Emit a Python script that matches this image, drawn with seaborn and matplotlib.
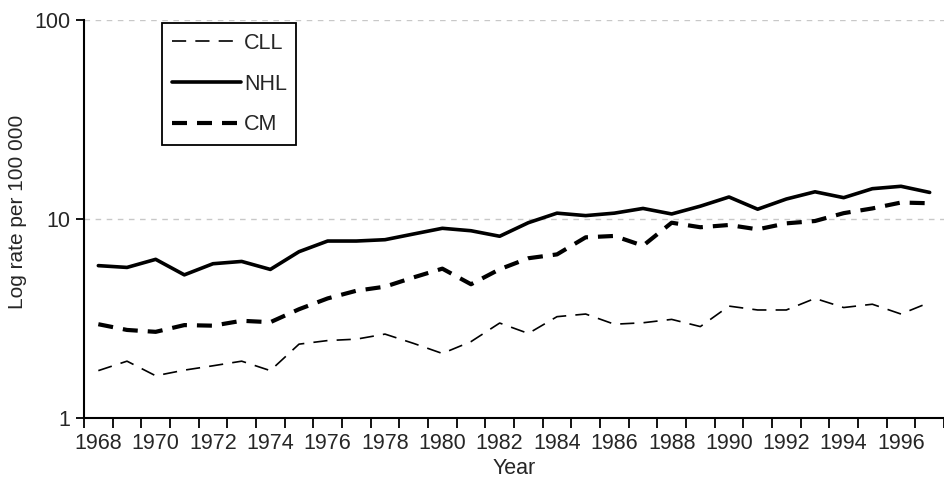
import matplotlib
matplotlib.use("Agg")
import matplotlib.pyplot as plt
import seaborn as sns
import numpy as np
from matplotlib.lines import Line2D

# values (rate per 100 000)
years = list(range(1968, 1998))
cll = [1.73, 1.93, 1.63, 1.74, 1.83, 1.93, 1.73, 2.35, 2.45, 2.49,
       2.64, 2.37, 2.11, 2.42, 3.00, 2.66, 3.23, 3.33, 2.96, 3.01,
       3.13, 2.88, 3.65, 3.49, 3.49, 3.99, 3.59, 3.73, 3.33, 3.81]
nhl = [5.83, 5.71, 6.27, 5.24, 5.96, 6.12, 5.58, 6.85, 7.75, 7.75,
       7.87, 8.41, 8.98, 8.73, 8.19, 9.58, 10.7, 10.4, 10.7, 11.3,
       10.6, 11.6, 12.9, 11.2, 12.6, 13.7, 12.8, 14.2, 14.6, 13.6]
cm = [2.96, 2.77, 2.71, 2.93, 2.91, 3.08, 3.03, 3.52, 3.99, 4.36,
      4.57, 5.09, 5.63, 4.70, 5.59, 6.35, 6.64, 8.09, 8.22, 7.34,
      9.58, 9.09, 9.33, 8.87, 9.51, 9.77, 10.7, 11.3, 12.1, 12.0]
labels = ["CLL", "NHL", "CM"]
year_labels = [str(y) for y in range(1968, 1998, 2)]

sns.set_style("white")
plt.rcParams["font.family"] = ["Liberation Sans", "DejaVu Sans"]

W, H = 944, 478
fs = 15.5
fig = plt.figure(figsize=(W / 100, H / 100), dpi=100)
ax = fig.add_axes([84 / W, 60 / H, 860 / W, 398 / H])

styles = {
    "CLL": dict(lw=1.2, linestyle=(0, (8.5, 5.5))),
    "NHL": dict(lw=2.6, linestyle="-"),
    "CM": dict(lw=3.0, linestyle=(0, (3.6, 2.4))),
}
series = {"CLL": cll, "NHL": nhl, "CM": cm}
for name in labels:
    sns.lineplot(x=years, y=series[name], ax=ax, color="black", **styles[name])

ax.set_yscale("log")
ax.set_ylim(1, 100)
ax.set_xlim(1967.5, 1967.5 + 860 / 29)

ax.set_yticks([1, 10, 100])
ax.set_yticklabels(["1", "10", "100"])
ax.yaxis.set_minor_locator(matplotlib.ticker.NullLocator())
ax.set_xticks(range(1968, 1998, 2))
ax.set_xticklabels(year_labels)
ax.set_xticks(np.arange(1967.5, 1998, 1), minor=True)
ax.tick_params(axis="x", which="major", length=0, labelsize=fs, pad=11, bottom=True)
ax.tick_params(axis="x", which="minor", length=7, width=1.3, direction="out",
               color="black", bottom=True)
ax.tick_params(axis="y", which="major", length=6, width=1.3, direction="out", color="black",
               labelsize=fs, left=True, pad=4)

for y in [10, 100]:
    ax.axhline(y, color="#c8c8c8", lw=1, linestyle=(0, (4, 4)), zorder=0)

for s in ["top", "right"]:
    ax.spines[s].set_visible(False)
for s in ["left", "bottom"]:
    ax.spines[s].set_color("black")
    ax.spines[s].set_linewidth(1.5)

ax.set_xlabel("Year", fontsize=fs, labelpad=3)
ax.set_ylabel("Log rate per 100 000", fontsize=15)
ax.yaxis.set_label_coords(-0.066, 0.518)

handles = [Line2D([0], [0], color="black", **styles[n]) for n in labels]
leg = ax.legend(handles, labels, loc="upper left", bbox_to_anchor=(0.0907, 0.992),
                fontsize=fs, handlelength=3.2, labelspacing=0.92, handletextpad=0.15,
                borderpad=0.45, borderaxespad=0, frameon=True, fancybox=False, framealpha=1)
leg.get_frame().set_edgecolor("black")
leg.get_frame().set_linewidth(1.3)

fig.savefig("out.png", dpi=100)
